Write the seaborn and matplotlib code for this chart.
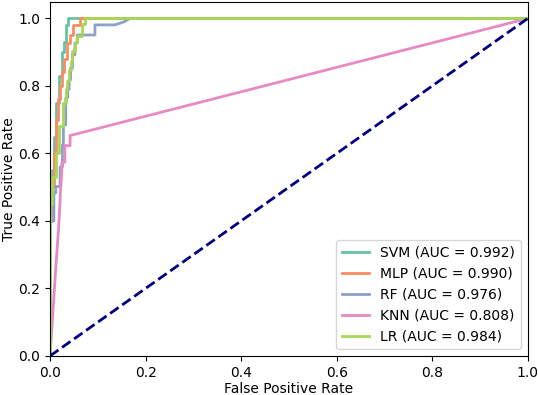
import matplotlib
matplotlib.use("Agg")
import matplotlib.pyplot as plt
import seaborn as sns

# --- ROC data (corner points) ---

model_names = ["SVM", "MLP", "RF", "KNN", "LR"]
auc_values = [0.992, 0.990, 0.976, 0.808, 0.984]

svm_fpr = [0, 0, 0.004, 0.004, 0.008, 0.008, 0.013, 0.013, 0.019, 0.019,
           0.025, 0.025, 0.029, 0.029, 0.034, 0.034, 0.037, 0.037, 1.0]
svm_tpr = [0, 0.45, 0.45, 0.55, 0.55, 0.65, 0.65, 0.75, 0.75, 0.83,
           0.83, 0.90, 0.90, 0.93, 0.93, 0.98, 0.98, 1.0, 1.0]

mlp_fpr = [0, 0, 0.004, 0.004, 0.008, 0.008, 0.013, 0.013, 0.017, 0.017,
           0.021, 0.021, 0.025, 0.025, 0.029, 0.029, 0.036, 0.036, 0.042, 0.042,
           0.049, 0.049, 0.062, 0.062, 1.0]
mlp_tpr = [0, 0.40, 0.40, 0.50, 0.50, 0.60, 0.60, 0.70, 0.70, 0.76,
           0.76, 0.80, 0.80, 0.84, 0.84, 0.88, 0.88, 0.927, 0.927, 0.951,
           0.951, 0.981, 0.981, 1.0, 1.0]

rf_fpr = [0, 0, 0.008, 0.008, 0.012, 0.012, 0.021, 0.021, 0.026, 0.026,
          0.028, 0.028, 0.033, 0.033, 0.037, 0.037, 0.040, 0.040, 0.043, 0.043,
          0.047, 0.047, 0.052, 0.052, 0.057, 0.057, 0.094, 0.094, 0.136, 0.155,
          0.167, 1.0]
rf_tpr = [0, 0.40, 0.40, 0.483, 0.483, 0.502, 0.502, 0.56, 0.56, 0.625,
          0.625, 0.685, 0.685, 0.765, 0.765, 0.79, 0.79, 0.818, 0.818, 0.853,
          0.853, 0.892, 0.892, 0.927, 0.927, 0.951, 0.951, 0.981, 0.981, 0.99,
          1.0, 1.0]

knn_fpr = [0, 0.012, 0.014, 0.016, 0.018, 0.020, 0.022, 0.024, 0.025, 0.031,
           0.031, 0.042, 0.042, 1.0]
knn_tpr = [0, 0.26, 0.30, 0.34, 0.38, 0.43, 0.49, 0.53, 0.574, 0.574,
           0.623, 0.623, 0.653, 1.0]

lr_fpr = [0, 0, 0.005, 0.005, 0.012, 0.012, 0.019, 0.019, 0.028, 0.028,
          0.033, 0.033, 0.036, 0.036, 0.040, 0.040, 0.043, 0.043, 0.047, 0.047,
          0.052, 0.052, 0.057, 0.057, 0.066, 0.066, 0.0725, 0.0725, 1.0]
lr_tpr = [0, 0.45, 0.45, 0.53, 0.53, 0.60, 0.60, 0.68, 0.68, 0.75,
          0.75, 0.79, 0.79, 0.816, 0.816, 0.846, 0.846, 0.875, 0.875, 0.905,
          0.905, 0.929, 0.929, 0.949, 0.949, 0.983, 0.983, 1.0, 1.0]

curves = [(svm_fpr, svm_tpr), (mlp_fpr, mlp_tpr), (rf_fpr, rf_tpr),
          (knn_fpr, knn_tpr), (lr_fpr, lr_tpr)]

# --- PLOT ---

palette = sns.color_palette("Set2")

fig, ax = plt.subplots(figsize=(5.38, 3.95), dpi=100)

for i, (name, auc) in enumerate(zip(model_names, auc_values)):
    fpr, tpr = curves[i]
    sns.lineplot(x=fpr, y=tpr, ax=ax, estimator=None, sort=False,
                 color=palette[i], linewidth=2,
                 label=f"{name} (AUC = {auc:.3f})")

ax.plot([0, 1], [0, 1], color="navy", linewidth=2, linestyle="--")

ax.set_xlim(0.0, 1.0)
ax.set_ylim(0.0, 1.05)
ax.set_xlabel("False Positive Rate", labelpad=2)
ax.set_ylabel("True Positive Rate", labelpad=2)
ax.legend(loc="lower right")

fig.subplots_adjust(left=0.093, right=0.981, bottom=0.099, top=0.996)
fig.savefig("out.png", dpi=100)
